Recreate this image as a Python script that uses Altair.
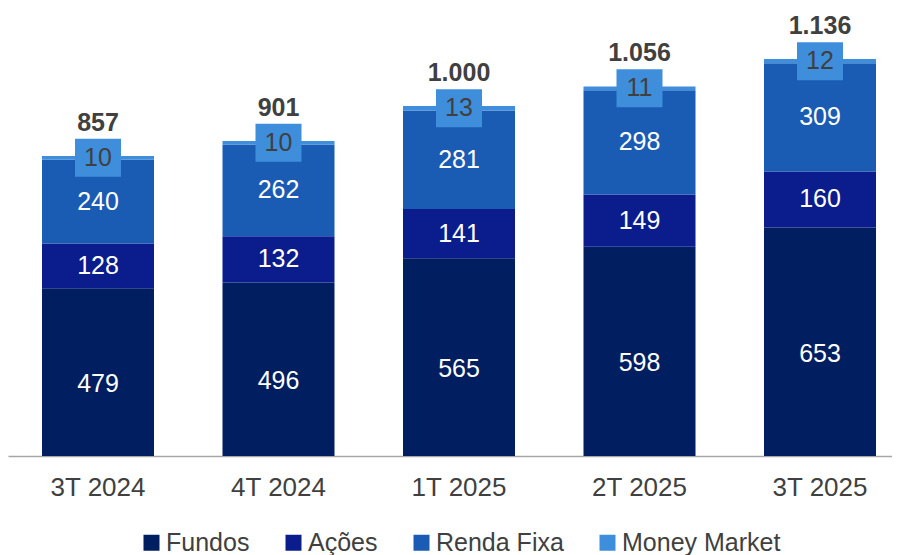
import altair as alt
import pandas as pd

periods = ["3T 2024", "4T 2024", "1T 2025", "2T 2025", "3T 2025"]
fundos = [479, 496, 565, 598, 653]
acoes = [128, 132, 141, 149, 160]
renda_fixa = [240, 262, 281, 298, 309]
money_market = [10, 10, 13, 11, 12]
total_labels = ["857", "901", "1.000", "1.056", "1.136"]

series_names = ["Fundos", "Ações", "Renda Fixa", "Money Market"]
series_colors = ["#001E60", "#0B1C8C", "#1A5BB4", "#3F8EDC"]
series_values = [fundos, acoes, renda_fixa, money_market]

rows = []
for i, p in enumerate(periods):
    base = 0
    for k, (name, vals) in enumerate(zip(series_names, series_values)):
        v = vals[i]
        rows.append({"period": p, "series": name, "order": k, "value": v,
                     "start": base, "end": base + v, "mid": base + v / 2,
                     "label": str(v)})
        base += v
df = pd.DataFrame(rows)

tot = pd.DataFrame({"period": periods,
                    "total": [sum(v[i] for v in series_values) for i in range(len(periods))],
                    "label": total_labels})

FONT = "Liberation Sans"
xscale = alt.Scale(domain=periods, paddingInner=0.3795, paddingOuter=0.1385, align=0.68)
yscale = alt.Scale(domain=[0, 1280], nice=False)
X = alt.X("period:N", scale=xscale, sort=periods,
          axis=alt.Axis(title=None, domain=True, domainColor="#A6A6A6", domainWidth=1.5,
                        ticks=False, labelAngle=0,
                        labelFontSize=26, labelColor="#404040", labelFont=FONT,
                        labelPadding=18))
XP = alt.X("period:N", scale=xscale, sort=periods)

bars = alt.Chart(df).mark_bar().encode(
    x=X,
    y=alt.Y("start:Q", scale=yscale, axis=None),
    y2="end:Q",
    color=alt.Color("series:N", sort=series_names,
                    scale=alt.Scale(domain=series_names, range=series_colors),
                    legend=alt.Legend(title=None, orient="none", direction="horizontal",
                                      legendX=131, legendY=522,
                                      symbolType="square", symbolSize=256,
                                      symbolStrokeWidth=0,
                                      labelFontSize=25, labelColor="#404040",
                                      labelFont=FONT, columnPadding=31,
                                      labelOffset=2)),
    order=alt.Order("order:Q"),
)

mid_text = alt.Chart(df).transform_filter(
    "datum.series == 'Ações' || datum.series == 'Renda Fixa'"
).mark_text(color="white", fontSize=25, font=FONT, baseline="middle").encode(
    x=XP, y=alt.Y("mid:Q", scale=yscale), text="label:N",
)

fundos_text = alt.Chart(df).transform_filter(
    "datum.series == 'Fundos'"
).mark_text(color="white", fontSize=25, font=FONT, baseline="middle", dy=12).encode(
    x=XP, y=alt.Y("mid:Q", scale=yscale), text="label:N",
)

mm = df[df.series == "Money Market"]
mm_box = alt.Chart(mm).mark_point(
    shape="M-1,-0.826L1,-0.826L1,0.826L-1,0.826Z", size=2116, filled=True,
    fill="#3F8EDC", strokeWidth=0, opacity=1
).encode(
    x=XP, y=alt.Y("mid:Q", scale=yscale),
)
mm_text = alt.Chart(mm).mark_text(color="#404040", fontSize=25, font=FONT,
                                  baseline="middle").encode(
    x=XP, y=alt.Y("mid:Q", scale=yscale), text="label:N",
)

total_text = alt.Chart(tot).mark_text(color="#404040", fontSize=25, font=FONT,
                                      fontWeight="bold", baseline="middle", dy=-33).encode(
    x=XP, y=alt.Y("total:Q", scale=yscale), text="label:N",
)

chart = alt.layer(bars, mid_text, fundos_text, mm_box, mm_text, total_text).properties(
    width=884, height=448, background="white", padding=0
).configure_view(strokeWidth=0)

chart.save("out.html", embed_options={"renderer": "svg", "actions": False})
